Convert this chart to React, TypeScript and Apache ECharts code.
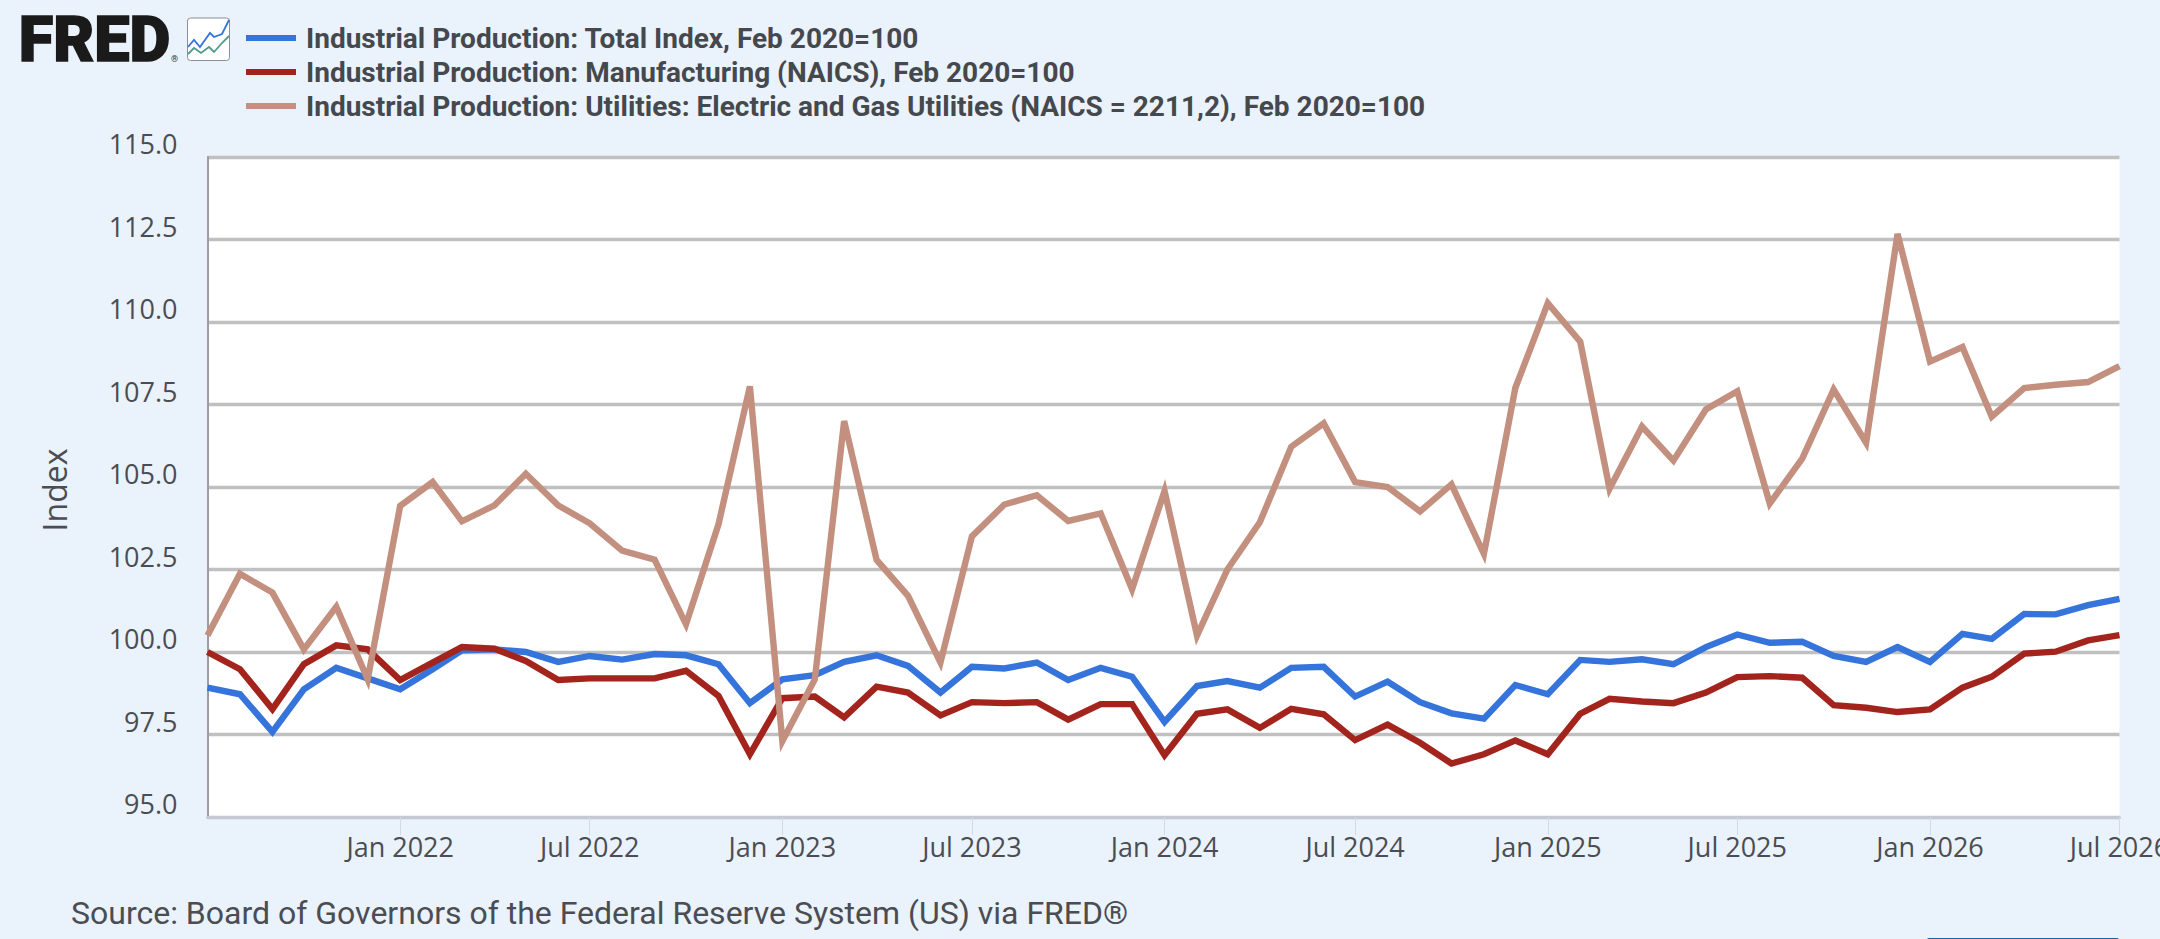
import React, { useEffect, useRef } from "react";
import * as echarts from "echarts";

const startYear = 2021;
const startMonth = 6; // July 2021, zero-based month of the first observation
const totalIndex = [
  98.92, 98.72, 97.58, 98.87, 99.52, 99.2, 98.87, 99.48, 100.05, 100.08, 100.0, 99.7, 99.88, 99.77, 99.94, 99.9,
  99.63, 98.45, 99.17, 99.3, 99.7, 99.9, 99.58, 98.77, 99.55, 99.5, 99.68, 99.15, 99.52, 99.25, 97.88,
  98.97, 99.12, 98.92, 99.52, 99.55, 98.65, 99.1, 98.48, 98.14, 97.98, 99.0, 98.72, 99.76, 99.7, 99.78,
  99.63, 100.15, 100.53, 100.28, 100.31, 99.88, 99.7, 100.15, 99.7, 100.55, 100.4, 101.15, 101.14, 101.42, 101.61,
];
const manufacturing = [
  100.0, 99.48, 98.27, 99.63, 100.2, 100.08, 99.15, 99.68, 100.15, 100.1, 99.73, 99.15, 99.2, 99.2, 99.2, 99.43,
  98.67, 96.9, 98.6, 98.65, 98.02, 98.95, 98.77, 98.08, 98.48, 98.45, 98.48, 97.95, 98.42, 98.42, 96.87,
  98.13, 98.26, 97.7, 98.28, 98.11, 97.33, 97.8, 97.25, 96.62, 96.9, 97.32, 96.9, 98.13, 98.58, 98.5,
  98.45, 98.77, 99.24, 99.27, 99.22, 98.39, 98.31, 98.18, 98.26, 98.92, 99.25, 99.95, 100.01, 100.35, 100.51,
];
const utilities = [
  100.5, 102.37, 101.8, 100.08, 101.37, 99.17, 104.43, 105.15, 103.96, 104.44, 105.4, 104.44, 103.9, 103.07, 102.8, 100.84,
  103.87, 108.05, 97.3, 99.17, 107.0, 102.79, 101.7, 99.68, 103.5, 104.47, 104.75, 103.97, 104.2, 101.9, 104.88,
  100.5, 102.5, 103.93, 106.22, 106.93, 105.15, 105.0, 104.26, 105.08, 102.97, 108.0, 110.57, 109.4, 104.95, 106.83,
  105.8, 107.35, 107.9, 104.5, 105.86, 107.95, 106.34, 112.67, 108.8, 109.24, 107.13, 108.0, 108.1, 108.18, 108.66,
];
const legendNames = [
  "Industrial Production: Total Index, Feb 2020=100",
  "Industrial Production: Manufacturing (NAICS), Feb 2020=100",
  "Industrial Production: Utilities: Electric and Gas Utilities (NAICS = 2211,2), Feb 2020=100",
];
const colors = ["#3574DA", "#A3241C", "#C38F7E"];
const sourceText = "Source: Board of Governors of the Federal Reserve System (US) via FRED®";

const monthTime = (i: number) => new Date(startYear, startMonth + i, 1).getTime();
const toSeries = (values: number[]) => values.map((v, i) => [monthTime(i), v]);
const tickMonths = [6, 12, 18, 24, 30, 36, 42, 48, 54, 60];
const monthNames = ["Jan", "Feb", "Mar", "Apr", "May", "Jun", "Jul", "Aug", "Sep", "Oct", "Nov", "Dec"];

export default function App() {
  const ref = useRef<HTMLDivElement>(null);
  useEffect(() => {
    const chart = echarts.init(ref.current!, undefined, { renderer: "svg" });
    const tickTimes = tickMonths.map(monthTime);
    const axisFont = '"Open Sans", sans-serif';
    chart.setOption({
      animation: false,
      backgroundColor: "#EAF2FB",
      grid: {
        show: true,
        backgroundColor: "#FFFFFF",
        borderWidth: 0,
        left: 207.5,
        right: 40.5,
        top: 157,
        bottom: 122,
        outerBoundsMode: "none",
      },
      legend: {
        orient: "vertical",
        left: 241,
        top: 16,
        icon: "rect",
        itemWidth: 50,
        itemHeight: 6,
        itemGap: 0,
        selectedMode: false,
        textStyle: {
          fontFamily: "Roboto, sans-serif",
          fontWeight: 700,
          fontSize: 28,
          lineHeight: 34,
          color: "#45484D",
          padding: [0, 0, 0, 5],
        },
      },
      xAxis: {
        type: "value",
        min: monthTime(0),
        max: monthTime(60),
        axisLine: { show: true, onZero: false, lineStyle: { color: "#C3CAD6", width: 3 } },
        axisTick: { show: true, length: 18, customValues: tickTimes, lineStyle: { color: "#D3DAE6", width: 1 } },
        splitLine: { show: false },
        axisLabel: {
          customValues: tickTimes,
          margin: 16,
          fontFamily: axisFont,
          fontSize: 27,
          color: "#4A4D52",
          hideOverlap: false,
          showMinLabel: true,
          showMaxLabel: true,
          formatter: (value: number) => {
            const d = new Date(value);
            return `${monthNames[d.getMonth()]} ${d.getFullYear()}`;
          },
        },
      },
      yAxis: {
        type: "value",
        min: 95,
        max: 115,
        interval: 2.5,
        name: "Index",
        nameLocation: "middle",
        nameGap: 137,
        nameRotate: 90,
        nameTextStyle: { fontFamily: axisFont, fontSize: 32, color: "#4A4D52", padding: [0, 6, 0, 0] },
        axisLine: { show: true, lineStyle: { color: "#9A9EA3", width: 2 } },
        axisTick: { show: false },
        splitLine: { show: true, lineStyle: { color: "#C0C0C0", width: 3.3 } },
        axisLabel: {
          margin: 30,
          fontFamily: axisFont,
          fontSize: 27,
          color: "#4A4D52",
          verticalAlign: "bottom",
          formatter: (v: number) => v.toFixed(1),
        },
      },
      series: [totalIndex, manufacturing, utilities].map((values, i) => ({
        name: legendNames[i],
        type: "line",
        data: toSeries(values),
        symbol: "none",
        smooth: false,
        color: colors[i],
        lineStyle: { color: colors[i], width: 6.4, cap: "butt", join: "miter", miterLimit: 10 },
      })),
      graphic: [
        {
          type: "text",
          left: 18,
          top: 7,
          style: {
            text: "FRED",
            fontFamily: "Roboto, sans-serif",
            fontWeight: 900,
            fontSize: 63,
            fill: "#1A1A1A",
            stroke: "#1A1A1A",
            lineWidth: 1.5,
          },
        },
        {
          type: "text",
          x: 171,
          y: 54,
          style: { text: "®", fontFamily: "Roboto, sans-serif", fontSize: 9, fill: "#333333" },
        },
        {
          type: "rect",
          shape: { x: 187.5, y: 18, width: 42, height: 42.5, r: 3 },
          style: { fill: "#FFFFFF", stroke: "#8C8F93", lineWidth: 1 },
        },
        {
          type: "polyline",
          shape: { points: [[188, 47], [194, 40], [200, 47], [210, 33], [214, 37], [222, 34], [229, 20]] },
          style: { stroke: "#3574DA", lineWidth: 1.8, fill: "none" },
        },
        {
          type: "polyline",
          shape: { points: [[188, 54], [194, 48], [201, 53], [209, 47], [214, 52], [222, 43], [229, 36]] },
          style: { stroke: "#4E9C8C", lineWidth: 1.8, fill: "none" },
        },
        {
          type: "text",
          x: 71,
          y: 897,
          style: { text: sourceText, fontFamily: "Roboto, sans-serif", fontSize: 32, fill: "#4A4D52" },
        },
        {
          type: "rect",
          shape: { x: 1927, y: 938, width: 192, height: 4, r: 2 },
          style: { fill: "#1F5F9F" },
        },
      ],
    });
    return () => chart.dispose();
  }, []);
  return (
    <div
      ref={ref}
      style={{ position: "absolute", left: 0, top: 0, width: 2160, height: 939, overflow: "hidden" }}
    />
  );
}
